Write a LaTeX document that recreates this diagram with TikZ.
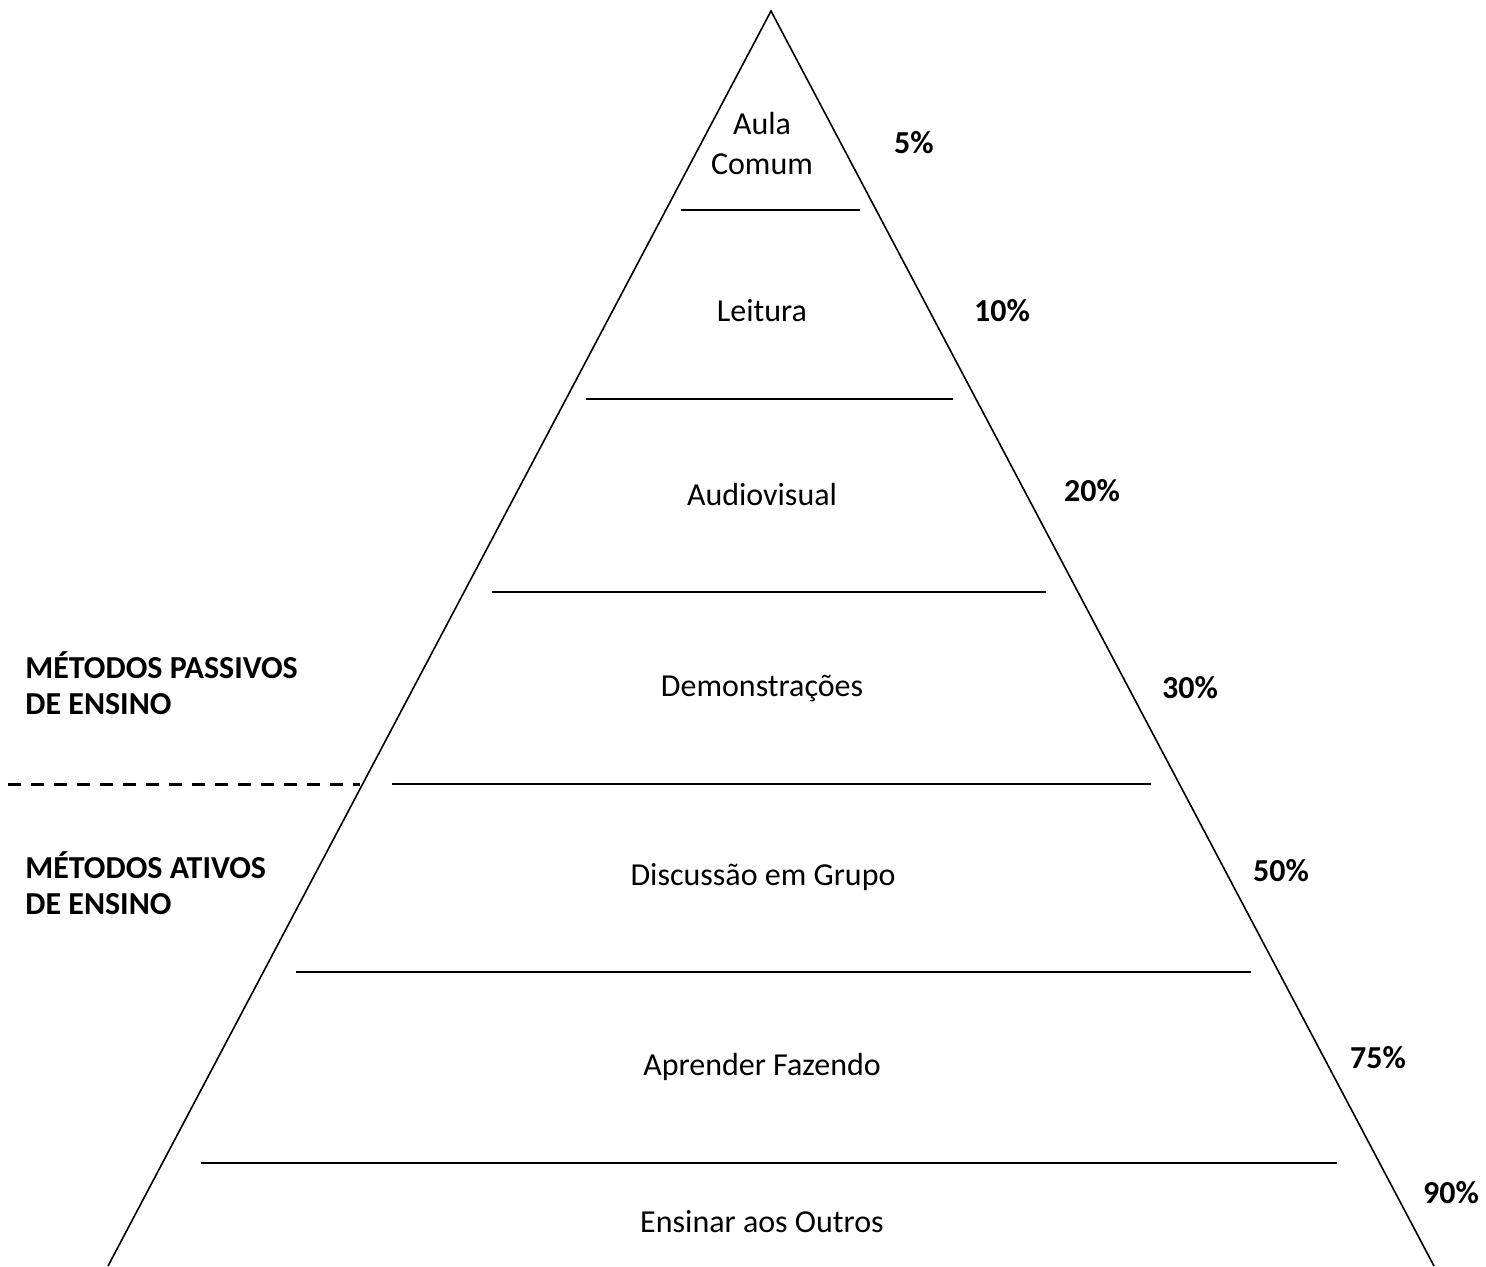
\documentclass[tikz,border=0pt]{standalone}
\usepackage{fontspec}
\setmainfont{Carlito}
\usetikzlibrary{positioning}
\tikzset{
  nivel/.style={font=\fontsize{16}{20}\selectfont, align=center, inner sep=0pt},
  taxa/.style={font=\fontsize{16}{20}\selectfont\bfseries, inner sep=0pt},
  metodo/.style={font=\fontsize{16}{18}\selectfont\bfseries, align=left, anchor=west, inner sep=0pt},
  faixa/.style={line width=1pt},
  lado/.style={line width=0.8pt},
}

\begin{document}
\begin{tikzpicture}[x=0.5pt, y=-0.5pt]

  \useasboundingbox (0,0) rectangle (1486,1266);

  %% triangle
  \coordinate (topo) at (771,11);
  \coordinate (baseE) at (108,1266);
  \coordinate (baseD) at (1434,1266);
  \draw[lado] (baseE) -- (topo) -- (baseD);

  %% levels
  \foreach \y/\a/\b in {210/681/860, 399/586/953, 592/492/1046,
                        784/392/1151, 972/296/1251, 1163/201/1337}
    \draw[faixa] (\a,\y) -- (\b,\y);

  \node[nivel] (aula)    at (762,143)  {Aula\\Comum};
  \node[nivel] (leitura) at (762,311)  {Leitura};
  \node[nivel] (audio)   at (762,494)  {Audiovisual};
  \node[nivel] (demo)    at (762,688)  {Demonstrações};
  \node[nivel] (disc)    at (763,877)  {Discussão em Grupo};
  \node[nivel] (fazer)   at (762,1067) {Aprender Fazendo};
  \node[nivel] (ensinar) at (762,1222) {Ensinar aos Outros};

  %% retention rates
  \node[taxa] (t5)  at (914,143)  {5\%};
  \node[taxa] (t10) at (1002,311) {10\%};
  \node[taxa] (t20) at (1092,491) {20\%};
  \node[taxa] (t30) at (1190,688) {30\%};
  \node[taxa] (t50) at (1281,871) {50\%};
  \node[taxa] (t75) at (1378,1058) {75\%};
  \node[taxa] (t90) at (1451,1193) {90\%};

  %% passive / active split
  \coordinate (divA) at (8,784);
  \coordinate (divB) at (360,784);
  \draw[line width=1.5pt, dash pattern=on 6.5pt off 5pt] (divA) -- (divB);

  \node[metodo] (passivos) at (25,683) {MÉTODOS PASSIVOS\\DE ENSINO};
  \node[metodo] (ativos)   at (25,883) {MÉTODOS ATIVOS\\DE ENSINO};

\end{tikzpicture}
\end{document}
